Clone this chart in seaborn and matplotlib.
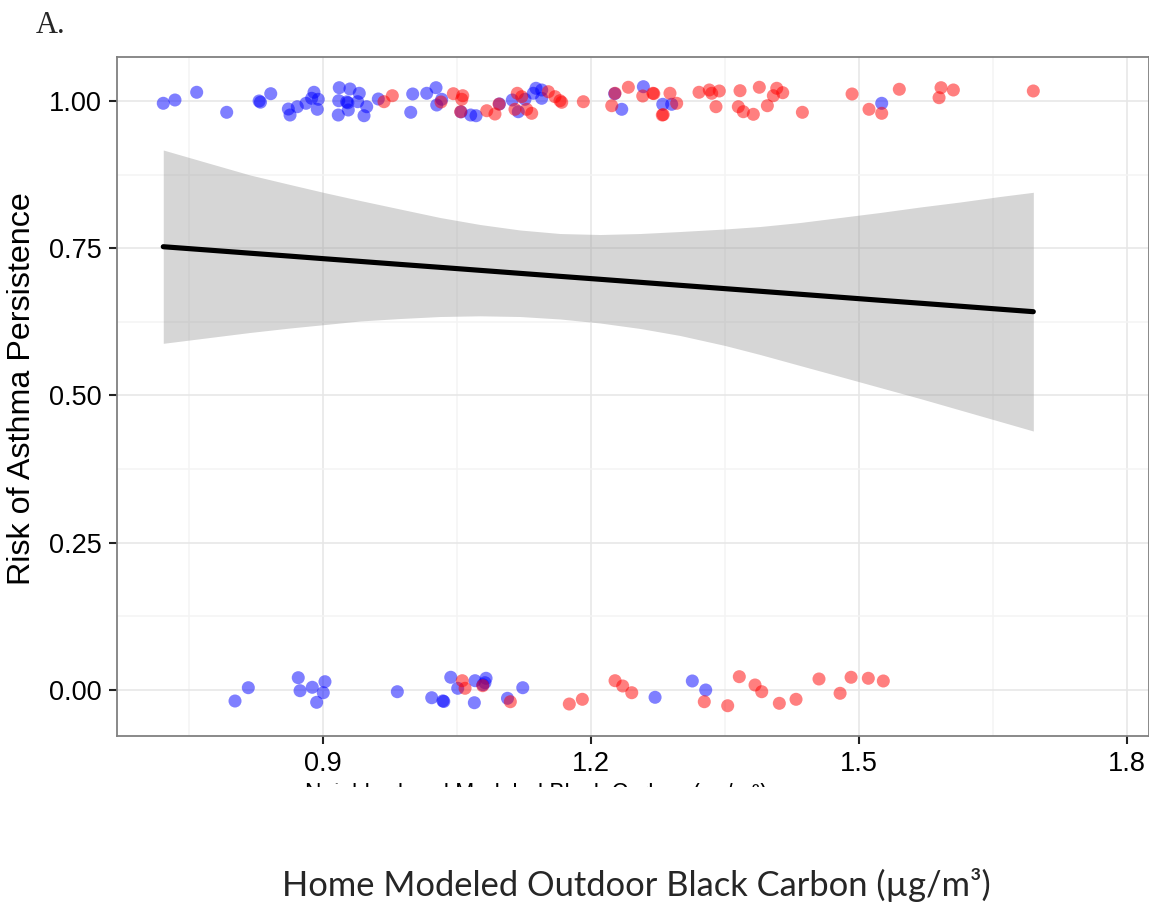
import numpy as np
import pandas as pd
import matplotlib
matplotlib.use("Agg")
import matplotlib.pyplot as plt
from matplotlib.transforms import Bbox
import seaborn as sns

# ---- data -------------------------------------------------------------
# children whose asthma persisted (outcome = 1) and remitted (outcome = 0),
# with small vertical jitter so overlapping points stay visible
blue_top_x = [0.7212, 0.7343, 0.7586, 0.7922, 0.8285, 0.8300, 0.8415, 0.8612, 0.8631,
              0.8712, 0.8810, 0.8873, 0.8899, 0.8947, 0.8936, 0.9182, 0.9302, 0.9406,
              0.9176, 0.9265, 0.9278, 0.9283, 0.9388, 0.9489, 0.9459, 0.9171, 0.9619,
              1.0004, 0.9982, 1.0161, 1.0265, 1.0273, 1.0329, 1.0545, 1.0653, 1.0713,
              1.0975, 1.1119, 1.1186, 1.1261, 1.1354, 1.1384, 1.1448, 1.1448, 1.2265,
              1.2344, 1.2586, 1.2803, 1.2903, 1.5254]
blue_top_y = [0.9961, 1.0017, 1.0148, 0.9808, 1.0000, 0.9980, 1.0124, 0.9864, 0.9762,
              0.9903, 0.9961, 1.0046, 1.0148, 1.0029, 0.9859, 1.0226, 1.0204, 1.0131,
              1.0005, 0.9985, 0.9970, 0.9847, 0.9988, 0.9903, 0.9750, 0.9762, 1.0034,
              1.0119, 0.9808, 1.0131, 1.0226, 0.9932, 1.0029, 0.9815, 0.9762, 0.9750,
              0.9950, 1.0017, 0.9818, 1.0029, 1.0131, 1.0216, 1.0187, 1.0046, 1.0125,
              0.9859, 1.0243, 0.9944, 0.9944, 0.9961]

red_top_x = [0.9683, 0.9776, 1.0321, 1.0459, 1.0564, 1.0553, 1.0541, 1.0833, 1.0925,
             1.0970, 1.1175, 1.1224, 1.1149, 1.1280, 1.1336, 1.1522, 1.1597, 1.1653,
             1.1672, 1.1914, 1.2232, 1.2269, 1.2418, 1.2579, 1.2693, 1.2703, 1.2884,
             1.2798, 1.2808, 1.2959, 1.3209, 1.3324, 1.3351, 1.3436, 1.3399, 1.3668,
             1.3649, 1.3705, 1.3884, 1.3974, 1.3817, 1.4041, 1.4079, 1.4146, 1.4366,
             1.4922, 1.5112, 1.5254, 1.5451, 1.5918, 1.5896, 1.6056, 1.6951]
red_top_y = [0.9988, 1.0090, 0.9983, 1.0124, 1.0090, 1.0029, 0.9818, 0.9835, 0.9779,
             0.9947, 1.0131, 1.0073, 0.9859, 0.9859, 0.9791, 1.0158, 1.0073, 1.0005,
             0.9978, 0.9988, 0.9920, 1.0131, 1.0233, 1.0085, 1.0131, 1.0125, 1.0131,
             0.9762, 0.9768, 0.9961, 1.0148, 1.0187, 1.0131, 1.0170, 0.9903, 1.0175,
             0.9903, 0.9818, 1.0233, 0.9920, 0.9774, 1.0090, 1.0216, 1.0141, 0.9808,
             1.0119, 0.9859, 0.9791, 1.0199, 1.0226, 1.0056, 1.0187, 1.0170]

blue_bot_x = [0.8015, 0.8164, 0.8723, 0.8743, 0.8880, 0.9022, 0.9003, 0.8929, 0.9832,
              1.0217, 1.0342, 1.0352, 1.0430, 1.0508, 1.0702, 1.0694, 1.0790, 1.0825,
              1.0813, 1.1065, 1.1236, 1.2717, 1.3134, 1.3284]
blue_bot_y = [-0.0187, 0.0039, 0.0209, -0.0012, 0.0046, 0.0141, -0.0046, -0.0209, -0.0029,
              -0.0131, -0.0185, -0.0195, 0.0216, 0.0029, 0.0158, -0.0216, 0.0090, 0.0199,
              0.0124, -0.0141, 0.0039, -0.0124, 0.0153, 0.0000]

red_bot_x = [1.0559, 1.0590, 1.0788, 1.1097, 1.1757, 1.1903, 1.2269, 1.2355, 1.2456,
             1.3268, 1.3530, 1.3660, 1.3836, 1.3911, 1.4108, 1.4295, 1.4552, 1.4788,
             1.4911, 1.5104, 1.5272]
red_bot_y = [0.0158, 0.0029, 0.0073, -0.0199, -0.0238, -0.0158, 0.0158, 0.0068, -0.0046,
             -0.0199, -0.0267, 0.0226, 0.0085, -0.0029, -0.0226, -0.0158, 0.0187, -0.0056,
             0.0216, 0.0199, 0.0153]

# fitted logistic curve with its 95% confidence band
fit_x = [0.7212, 0.7735, 0.8183, 0.8631, 0.9022, 0.9414, 0.9862, 1.0310, 1.0758,
         1.1205, 1.1653, 1.2101, 1.2549, 1.2996, 1.3500, 1.3892, 1.4340, 1.4788,
         1.5235, 1.5683, 1.6131, 1.6579, 1.6951]
fit_y = [0.7526, 0.7467, 0.7416, 0.7366, 0.7321, 0.7277, 0.7226, 0.7176, 0.7125,
         0.7074, 0.7023, 0.6973, 0.6922, 0.6871, 0.6814, 0.6770, 0.6719, 0.6668,
         0.6617, 0.6567, 0.6516, 0.6465, 0.6423]
fit_lo = [0.5886, 0.5985, 0.6070, 0.6146, 0.6205, 0.6265, 0.6307, 0.6341, 0.6353,
          0.6341, 0.6299, 0.6231, 0.6138, 0.6019, 0.5849, 0.5696, 0.5509, 0.5323,
          0.5136, 0.4949, 0.4754, 0.4559, 0.4397]
fit_hi = [0.9168, 0.8939, 0.8744, 0.8582, 0.8443, 0.8311, 0.8166, 0.8022, 0.7903,
          0.7810, 0.7750, 0.7733, 0.7750, 0.7784, 0.7827, 0.7869, 0.7937, 0.8022,
          0.8107, 0.8200, 0.8285, 0.8379, 0.8450]

x_ticks = [0.9, 1.2, 1.5, 1.8]
x_tick_labels = ["0.9", "1.2", "1.5", "1.8"]
y_ticks = [0.0, 0.25, 0.5, 0.75, 1.0]
y_tick_labels = ["0.00", "0.25", "0.50", "0.75", "1.00"]

points = pd.concat([
    pd.DataFrame({"bc": blue_top_x + blue_bot_x, "risk": blue_top_y + blue_bot_y, "grp": "blue"}),
    pd.DataFrame({"bc": red_top_x + red_bot_x, "risk": red_top_y + red_bot_y, "grp": "red"}),
], ignore_index=True)
fit = pd.DataFrame({"bc": fit_x, "risk": fit_y, "lo": fit_lo, "hi": fit_hi})

# ---- style ------------------------------------------------------------
sns.set_style("white")
plt.rcParams["font.family"] = ["Liberation Sans", "DejaVu Sans"]

W, H = 1149, 909
fig = plt.figure(figsize=(W / 100, H / 100), dpi=100)
ax = fig.add_axes([117 / W, 1 - 736 / H, (1149 - 117) / W, (736 - 57) / H])

ax.set_xlim(0.6694, 1.8246)
ax.set_ylim(-0.0781, 1.0747)

# grid: major + minor lines like a black-and-white ggplot panel
ax.set_xticks(x_ticks)
ax.set_xticklabels(x_tick_labels)
ax.set_yticks(y_ticks)
ax.set_yticklabels(y_tick_labels)
ax.set_xticks([0.75, 1.05, 1.35, 1.65], minor=True)
ax.set_yticks([0.125, 0.375, 0.625, 0.875], minor=True)
ax.grid(True, which="major", color="#e6e6e6", lw=1.1, zorder=0)
ax.grid(True, which="minor", color="#f4f4f4", lw=1.1, zorder=0)
ax.set_axisbelow(True)

ax.tick_params(axis="both", which="major", length=6, width=1.5, color="#222222",
               labelsize=19.5, labelcolor="black", pad=5, direction="out",
               bottom=True, left=True)
ax.tick_params(axis="both", which="minor", length=0)
for sp in ax.spines.values():
    sp.set_color("#808080")
    sp.set_linewidth(1.3)

# confidence band and fitted line
ax.fill_between(fit["bc"], fit["lo"], fit["hi"], color="#999999", alpha=0.4, lw=0, zorder=2)
sns.lineplot(data=fit, x="bc", y="risk", color="black", lw=3.7, ax=ax, zorder=3)

# observations
sns.scatterplot(data=points, x="bc", y="risk", hue="grp",
                palette={"blue": "#0000ff", "red": "#ff0000"},
                alpha=0.5, s=88, linewidth=0, legend=False, ax=ax, zorder=4)

ax.set_xlabel("")
ax.set_ylabel("")

# axis titles and panel letter
fig.text(22 / W, 1 - 389 / H, "Risk of Asthma Persistence", rotation=90,
         ha="center", va="center", fontsize=23.2, color="black")
fig.text(36 / W, 1 - 33 / H, "A.", family=["Liberation Serif", "DejaVu Serif"],
         fontsize=22, ha="left", va="baseline")
fig.text(636 / W, 1 - 896 / H, "Home Modeled Outdoor Black Carbon (\u00b5g/m\u00b3)",
         family=["Lato", "DejaVu Sans"], fontsize=24.8, ha="center", va="baseline")

# earlier axis title, only its top edge left showing under the tick labels
old = fig.text(536 / W, 1 - 782 / H, "Neighborhood Modeled Black Carbon (\u00b5g/m\u00b3)",
               fontsize=16.5, ha="center", va="top", color="black")
old.set_clip_box(Bbox.from_extents(0, H - 787, W, H - 783))
old.set_clip_on(True)

fig.savefig("out.png", dpi=100)
